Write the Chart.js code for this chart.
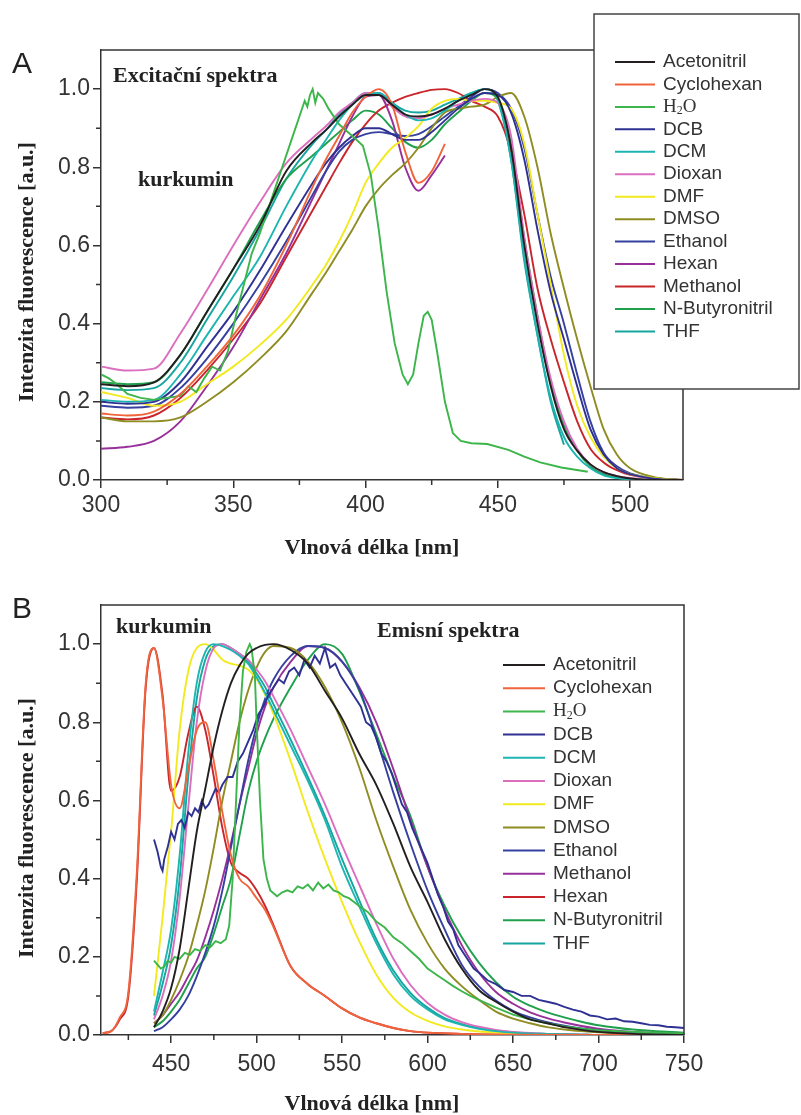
<!DOCTYPE html>
<html>
<head>
<meta charset="utf-8">
<script src="https://cdn.jsdelivr.net/npm/chart.js@4.4.1/dist/chart.umd.min.js"></script>
<style>
  body { margin: 0; background: #fff; }
  canvas { position: absolute; left: 0; }
</style>
</head>
<body>
<canvas id="excChart" width="801" height="565" style="top:0"></canvas>
<canvas id="emChart" width="801" height="550" style="top:565px"></canvas>
<script>
// Curcumin spectra in 13 solvents: excitation (A) and emission (B)

const excSolvents = ["Acetonitril", "Cyclohexan", "H₂O", "DCB", "DCM", "Dioxan", "DMF", "DMSO", "Ethanol", "Hexan", "Methanol", "N-Butyronitril", "THF"];
const emSolvents = ["Acetonitril", "Cyclohexan", "H₂O", "DCB", "DCM", "Dioxan", "DMF", "DMSO", "Ethanol", "Methanol", "Hexan", "N-Butyronitril", "THF"];

// line colours by legend row
const rowColors = ["#231f20", "#f0643c", "#3cb54a", "#2e3192", "#1db5b0", "#dc6ec0", "#f2ea1e", "#8e8c22", "#3540a0", "#97309a", "#c9252b", "#1fa04c", "#16a5a0"];

// ---- excitation spectra (A) ----
const waveExc = [300, 310, 320, 330, 340, 350, 360, 370, 380, 385, 390, 395, 400, 405, 410, 415, 420, 425, 430, 435, 440, 445, 450, 455, 460, 465, 470, 475, 480, 485, 490, 495, 500, 510, 520];

const excAcetonitril = [.245, .24, .25, .32, .43, .54, .65, .79, .865, .895, .93, .96, .985, .985, .96, .935, .93, .935, .95, .97, .985, 1.0, .98, .85, .60, .40, .24, .13, .075, .04, .02, .01, .004, 0, 0];
const excCyclohexan = [.17, .165, .175, .22, .29, .37, .47, .60, .75, .82, .88, .94, .98, 1.0, .96, .84, .76, .79, .86];
const excDCB = [.20, .195, .20, .25, .34, .43, .535, .65, .76, .81, .85, .88, .90, .90, .885, .87, .87, .89, .92, .95, .975, .99, .985, .94, .82, .64, .48, .36, .24, .13, .065, .03, .015, .003, 0];
const excDCM = [.205, .20, .205, .27, .37, .47, .57, .70, .82, .87, .92, .96, .985, .99, .965, .935, .92, .925, .945, .97, .99, 1.0, .975, .82, .57, .37, .21, .11, .06, .03, .012, .005, .002, 0, 0];
const excDioxan = [.29, .28, .285, .375, .485, .60, .71, .81, .875, .905, .94, .965, .99, .99, .955, .93, .925, .935, .95, .96, .97, .975, .965, .88, .62, .42, .26, .15, .08, .04, .02, .01, .005, .001, 0];
const excDMF = [.225, .21, .19, .20, .245, .29, .345, .41, .50, .55, .61, .68, .76, .81, .85, .875, .905, .95, .97, .975, .97, .97, .965, .95, .86, .68, .50, .32, .19, .11, .06, .03, .015, .004, 0];
const excDMSO = [.16, .15, .15, .16, .20, .25, .31, .38, .48, .53, .585, .64, .70, .745, .78, .81, .85, .90, .94, .95, .955, .96, .98, .99, .93, .80, .63, .49, .36, .24, .13, .065, .03, .006, 0];
const excEthanol = [.19, .185, .19, .235, .31, .40, .50, .61, .73, .79, .84, .87, .885, .89, .885, .88, .885, .905, .93, .955, .98, 1.0, .99, .95, .85, .68, .52, .40, .27, .15, .07, .035, .017, .004, 0];
const excHexan = [.08, .085, .10, .15, .24, .34, .46, .58, .72, .79, .86, .93, .98, .985, .92, .80, .74, .78, .83];
const excMethanol = [.16, .155, .165, .21, .28, .36, .45, .57, .69, .75, .81, .865, .91, .945, .965, .98, .99, .998, 1.0, .99, .97, .955, .93, .84, .68, .49, .36, .25, .15, .08, .045, .025, .013, .004, 0];
const excButyronitril = [.25, .245, .25, .32, .43, .54, .66, .77, .83, .86, .89, .92, .945, .935, .90, .865, .85, .87, .91, .94, .97, .99, .975, .86, .62, .42, .25, .14, .075, .035, .015, .006, .002, 0, 0];
const excTHF = [.235, .23, .235, .30, .41, .52, .64, .77, .86, .895, .935, .965, .99, .99, .965, .945, .94, .945, .96, .975, .99, 1.0, .97, .82, .56, .37, .20, .09];

// water has its own, denser wavelength grid
const waveExcH2O = [300, 303, 306, 310, 315, 320, 325, 330, 333, 336, 339, 342, 345, 348, 351, 354, 357, 360, 364, 368, 372, 375, 377, 378, 379, 380, 381, 382, 384, 386, 390, 395, 399, 402, 405, 408, 411, 414, 416, 418, 420, 422, 423.5, 425, 427, 430, 433, 436, 440, 446, 454, 460, 466, 474, 484];
const excH2O = [.27, .26, .245, .22, .21, .205, .21, .215, .24, .225, .26, .29, .28, .33, .42, .50, .58, .63, .71, .79, .87, .93, .97, .955, .985, 1.0, .965, .99, .975, .95, .91, .88, .855, .78, .64, .48, .35, .27, .245, .27, .35, .42, .43, .41, .33, .20, .12, .10, .094, .092, .077, .06, .045, .032, .021];

// ---- emission spectra (B) ----
const waveEm = [440, 445, 450, 455, 460, 465, 470, 475, 480, 485, 490, 495, 500, 505, 510, 520, 530, 540, 550, 560, 570, 580, 590, 600, 610, 620, 630, 640, 650, 660, 670, 680, 690, 700, 720, 750];
const waveEmNonpolar = [410, 415, 420, 425, 430, 435, 440, 445, 450, 455, 460, 465, 470, 475, 480, 485, 490, 495, 500, 505, 510, 520, 530, 540, 550, 560, 570, 580, 590, 600, 620, 650, 700, 750];

const emAcetonitril = [.02, .06, .12, .22, .37, .52, .63, .74, .83, .90, .945, .975, .99, .998, 1.0, .985, .95, .88, .81, .72, .64, .54, .43, .34, .245, .17, .115, .085, .06, .04, .03, .02, .013, .008, .003, 0];
const emCyclohexan = [.005, .01, .045, .11, .42, .89, .99, .86, .64, .58, .68, .78, .80, .70, .57, .46, .40, .38, .35, .32, .275, .175, .13, .10, .068, .045, .03, .018, .01, .006, .003, .001, 0, 0];
const emDCM = [.06, .16, .27, .46, .72, .90, .98, 1.0, .995, .985, .97, .95, .915, .875, .83, .74, .65, .55, .43, .33, .235, .155, .10, .065, .04, .026, .016, .01, .006, .004, .003, .002, .001, 0, 0, 0];
const emDioxan = [.04, .10, .19, .35, .58, .80, .93, .99, 1.0, .99, .975, .96, .935, .905, .865, .78, .685, .59, .485, .385, .285, .195, .128, .082, .052, .033, .021, .013, .008, .005, .003, .002, .001, 0, 0, 0];
const emDMF = [.10, .30, .52, .78, .93, .99, 1.0, .985, .96, .95, .945, .935, .91, .87, .82, .70, .57, .45, .34, .24, .155, .095, .058, .036, .022, .014, .009, .006, .004, .003, .002, .001, 0, 0, 0, 0];
const emDMSO = [.03, .05, .09, .14, .20, .28, .37, .48, .60, .70, .80, .88, .94, .98, .995, .99, .955, .89, .80, .685, .55, .43, .32, .235, .17, .125, .09, .06, .042, .03, .02, .014, .01, .007, .003, 0];
const emEthanol = [.01, .02, .04, .065, .10, .15, .21, .28, .37, .48, .59, .70, .79, .86, .91, .97, .995, .99, .955, .885, .76, .62, .49, .37, .27, .18, .125, .088, .062, .045, .033, .024, .017, .012, .006, .002];
const emMethanol = [.03, .05, .08, .11, .15, .19, .25, .32, .40, .49, .59, .68, .77, .84, .89, .955, .995, .99, .955, .89, .80, .68, .55, .43, .32, .23, .16, .11, .08, .058, .043, .032, .023, .016, .008, .003];
const emHexan = [.005, .01, .04, .10, .40, .88, .99, .87, .625, .66, .77, .84, .78, .66, .53, .44, .415, .40, .37, .33, .28, .175, .13, .10, .068, .045, .03, .018, .01, .006, .003, .001, 0, 0];
const emButyronitril = [.02, .035, .06, .09, .13, .17, .20, .26, .33, .40, .51, .62, .70, .76, .81, .89, .96, 1.0, .975, .88, .77, .66, .56, .43, .33, .25, .185, .135, .098, .075, .058, .045, .034, .025, .014, .006];
const emTHF = [.05, .13, .23, .40, .66, .86, .96, .995, 1.0, .99, .975, .955, .925, .89, .845, .755, .66, .56, .45, .345, .245, .165, .108, .07, .043, .028, .018, .011, .007, .004, .003, .002, .001, 0, 0, 0];

// noisy traces (DCB, water) on their own grids
const waveEmDCB = [440, 442, 444, 445, 446, 448, 450, 452, 454, 456, 458, 460, 462, 464, 466, 468, 470, 472, 474, 476, 478, 480, 483, 486, 489, 492, 495, 498, 501, 504, 507, 510, 513, 516, 519, 522, 525, 528, 531, 534, 537, 540, 543, 546, 549, 552, 555, 558, 561, 564, 567, 570, 573, 576, 579, 582, 585, 588, 591, 594, 597, 600, 603, 606, 609, 612, 615, 618, 621, 624, 627, 630, 635, 640, 645, 650, 655, 660, 665, 670, 675, 680, 685, 690, 695, 700, 705, 710, 715, 720, 725, 730, 735, 740, 745, 750];
const emDCB = [.50, .47, .43, .42, .45, .48, .52, .50, .54, .55, .53, .57, .56, .58, .57, .60, .58, .59, .61, .63, .62, .64, .66, .66, .70, .72, .75, .78, .82, .84, .87, .89, .91, .90, .93, .94, .92, .96, .94, .97, .95, .99, .94, .95, .92, .90, .88, .86, .84, .80, .79, .76, .72, .70, .67, .63, .59, .57, .53, .50, .47, .44, .40, .36, .33, .29, .27, .23, .21, .19, .17, .16, .14, .13, .115, .11, .10, .10, .09, .085, .08, .072, .065, .06, .05, .047, .04, .042, .035, .034, .03, .026, .025, .021, .02, .018];
const waveEmH2O = [440, 442, 444, 446, 448, 450, 452, 455, 458, 461, 464, 467, 470, 473, 476, 479, 482, 484, 486, 488, 490, 492, 494, 496, 497, 499, 500, 502, 504, 506, 508, 512, 515, 518, 521, 524, 527, 530, 533, 536, 539, 542, 545, 548, 551, 554, 557, 560, 565, 570, 575, 580, 585, 590, 595, 600, 605, 610, 615, 620, 625, 630, 640, 650, 660, 670, 680, 690, 700, 720, 750];
const emH2O = [.19, .18, .17, .175, .19, .185, .20, .195, .21, .205, .22, .215, .23, .225, .24, .235, .245, .28, .40, .60, .80, .93, .98, 1.0, .99, .92, .80, .60, .45, .40, .37, .355, .365, .37, .365, .38, .375, .385, .37, .39, .375, .385, .37, .365, .355, .35, .34, .33, .315, .29, .275, .25, .235, .215, .195, .17, .155, .14, .125, .112, .10, .09, .07, .052, .04, .03, .022, .016, .012, .008, .004];

const yMajor = [0, 0.2, 0.4, 0.6, 0.8, 1.0];
const yMinor = [0.1, 0.3, 0.5, 0.7, 0.9];
const excMajor = [300, 350, 400, 450, 500];
const excMinor = [325, 375, 425, 475];
const emMajor = [450, 500, 550, 600, 650, 700, 750];
const emMinor = [425, 475, 525, 575, 625, 675, 725];

const sans = '"Liberation Sans", Arial, sans-serif';
const serif = '"Liberation Serif", "Times New Roman", serif';

function points(wave, values) {
  return values.map((y, i) => ({ x: wave[i], y: y }));
}

function makeDatasets(labels, series, noisy) {
  return series.map(([wave, values], i) => {
    const jagged = noisy.includes(labels[i]);
    return {
      label: labels[i],
      data: points(wave, values),
      borderColor: rowColors[i],
      borderWidth: 1.9,
      pointRadius: 0,
      fill: false,
      tension: 0,
      cubicInterpolationMode: jagged ? "default" : "monotone"
    };
  });
}

// frame, minor ticks, legend and panel labels
const panelDecor = {
  id: "panelDecor",
  afterDraw(chart, args, o) {
    const { ctx, chartArea: a } = chart;
    const xs = chart.scales.x, ys = chart.scales.y;
    ctx.save();
    ctx.strokeStyle = "#333";
    ctx.lineWidth = 1.5;
    ctx.beginPath();
    ctx.moveTo(a.left, a.top);
    ctx.lineTo(a.right, a.top);
    ctx.lineTo(a.right, a.bottom);
    ctx.stroke();

    ctx.beginPath();
    o.xMinor.forEach(v => {
      const px = xs.getPixelForValue(v);
      ctx.moveTo(px, a.bottom);
      ctx.lineTo(px, a.bottom + 5);
    });
    yMinor.forEach(v => {
      const py = ys.getPixelForValue(v);
      ctx.moveTo(a.left - 5, py);
      ctx.lineTo(a.left, py);
    });
    ctx.stroke();

    if (o.box) {
      const b = o.box;
      ctx.fillStyle = "#fff";
      ctx.fillRect(b.x, b.y, b.w, b.h);
      ctx.strokeStyle = "#444";
      ctx.strokeRect(b.x, b.y, b.w, b.h);
    }

    // legend rows
    const L = o.legend;
    ctx.textBaseline = "middle";
    ctx.textAlign = "left";
    chart.data.datasets.forEach((ds, i) => {
      const yy = L.y + i * L.step;
      ctx.strokeStyle = ds.borderColor;
      ctx.lineWidth = 2;
      ctx.beginPath();
      ctx.moveTo(L.x1, yy);
      ctx.lineTo(L.x2, yy);
      ctx.stroke();
      ctx.fillStyle = "#333";
      if (ds.label === "H₂O") {
        let tx = L.tx;
        ctx.font = `19px ${serif}`;
        ctx.fillText("H", tx, yy);
        tx += ctx.measureText("H").width;
        ctx.font = `12px ${serif}`;
        ctx.fillText("2", tx, yy + 4);
        tx += ctx.measureText("2").width;
        ctx.font = `19px ${serif}`;
        ctx.fillText("O", tx, yy);
      } else {
        ctx.font = `19px ${sans}`;
        ctx.fillText(ds.label, L.tx, yy);
      }
    });

    ctx.textBaseline = "alphabetic";
    ctx.fillStyle = "#222";
    o.texts.forEach(t => {
      ctx.font = t.font;
      ctx.textAlign = t.align || "left";
      if (t.rot) {
        ctx.save();
        ctx.translate(t.x, t.y);
        ctx.rotate(-Math.PI / 2);
        ctx.fillText(t.text, 0, 0);
        ctx.restore();
      } else {
        ctx.fillText(t.text, t.x, t.y);
      }
    });
    ctx.restore();
  }
};

function makeChart(id, cfg) {
  const axisGrid = { display: true, drawOnChartArea: false, drawTicks: true, tickLength: 8, color: "#333", lineWidth: 1.5 };
  const axisBorder = { display: true, color: "#333", width: 1.5 };
  return new Chart(document.getElementById(id), {
    type: "line",
    data: { datasets: cfg.datasets },
    options: {
      responsive: false,
      animation: false,
      devicePixelRatio: 1,
      layout: { padding: { top: cfg.top, right: 801 - cfg.right, left: 0, bottom: 0 } },
      plugins: {
        legend: { display: false },
        tooltip: { enabled: false },
        panelDecor: cfg.decor
      },
      scales: {
        x: {
          type: "linear",
          min: cfg.xMin,
          max: cfg.xMax,
          afterFit: s => { s.height = cfg.height - cfg.bottom; },
          afterBuildTicks: s => { s.ticks = cfg.xMajor.map(v => ({ value: v })); },
          ticks: { autoSkip: false, maxRotation: 0, padding: cfg.xPad, color: "#333", font: { family: sans, size: 23 }, callback: v => String(v) },
          grid: axisGrid,
          border: axisBorder
        },
        y: {
          type: "linear",
          min: 0,
          max: 1.1,
          afterFit: s => { s.width = 101; },
          afterBuildTicks: s => { s.ticks = yMajor.map(v => ({ value: v })); },
          ticks: { autoSkip: false, padding: 3, color: "#333", font: { family: sans, size: 23 }, callback: v => v.toFixed(1) },
          grid: axisGrid,
          border: axisBorder
        }
      }
    },
    plugins: [panelDecor]
  });
}

const excSeries = [
  [waveExc, excAcetonitril], [waveExc, excCyclohexan], [waveExcH2O, excH2O], [waveExc, excDCB],
  [waveExc, excDCM], [waveExc, excDioxan], [waveExc, excDMF], [waveExc, excDMSO],
  [waveExc, excEthanol], [waveExc, excHexan], [waveExc, excMethanol], [waveExc, excButyronitril], [waveExc, excTHF]
];

const emSeries = [
  [waveEm, emAcetonitril], [waveEmNonpolar, emCyclohexan], [waveEmH2O, emH2O], [waveEmDCB, emDCB],
  [waveEm, emDCM], [waveEm, emDioxan], [waveEm, emDMF], [waveEm, emDMSO],
  [waveEm, emEthanol], [waveEm, emMethanol], [waveEmNonpolar, emHexan], [waveEm, emButyronitril], [waveEm, emTHF]
];

makeChart("excChart", {
  datasets: makeDatasets(excSolvents, excSeries, ["H₂O"]),
  height: 565, top: 50, bottom: 480, right: 683,
  xMin: 300, xMax: 520, xMajor: excMajor, xPad: 4,
  decor: {
    xMinor: excMinor,
    box: { x: 594, y: 14, w: 205, h: 375 },
    legend: { x1: 615, x2: 655, tx: 663, y: 62, step: 22.45 },
    texts: [
      { text: "A", x: 12, y: 73, font: `30px ${sans}` },
      { text: "Excitační spektra", x: 113, y: 82, font: `bold 22px ${serif}` },
      { text: "kurkumin", x: 138, y: 186, font: `bold 22px ${serif}` },
      { text: "Vlnová délka [nm]", x: 372, y: 554, align: "center", font: `bold 22px ${serif}` },
      { text: "Intenzita fluorescence [a.u.]", x: 33, y: 272, align: "center", rot: true, font: `bold 22px ${serif}` }
    ]
  }
});

makeChart("emChart", {
  datasets: makeDatasets(emSolvents, emSeries, ["H₂O", "DCB"]),
  height: 550, top: 40, bottom: 470, right: 684,
  xMin: 409, xMax: 750, xMajor: emMajor, xPad: 8,
  decor: {
    xMinor: emMinor,
    box: null,
    legend: { x1: 503, x2: 545, tx: 553, y: 100, step: 23.2 },
    texts: [
      { text: "B", x: 12, y: 53, font: `30px ${sans}` },
      { text: "kurkumin", x: 116, y: 68, font: `bold 22px ${serif}` },
      { text: "Emisní spektra", x: 377, y: 72, font: `bold 22px ${serif}` },
      { text: "Vlnová délka [nm]", x: 372, y: 545, align: "center", font: `bold 22px ${serif}` },
      { text: "Intenzita fluorescence [a.u.]", x: 33, y: 263, align: "center", rot: true, font: `bold 22px ${serif}` }
    ]
  }
});
</script>
</body>
</html>
